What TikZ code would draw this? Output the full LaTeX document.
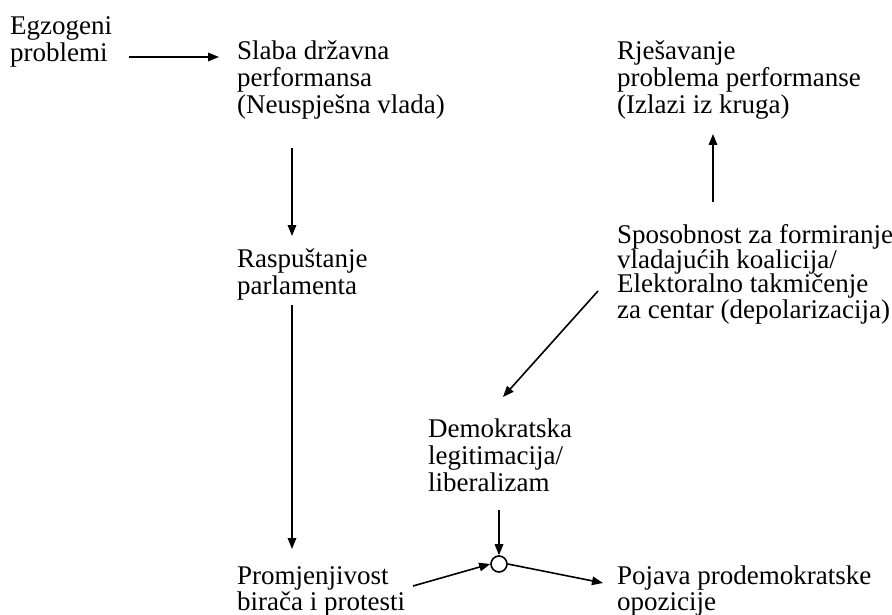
\documentclass[tikz,border=0pt]{standalone}
\usepackage{fontspec}
\setmainfont{Liberation Serif}
\usetikzlibrary{arrows.meta}
\newcommand\blk[2]{\vtop{\baselineskip=#1pt\lineskiplimit=-1000pt\lineskip=0pt\halign{##\hfil\cr#2\crcr}}}
\begin{document}
\begin{tikzpicture}[x=1pt,y=-1pt,
  txt/.style={inner sep=0pt, anchor=base west, font=\fontsize{27}{27}\selectfont},
  arr/.style={line width=1.6pt, -{Triangle[length=11pt,width=8.5pt]}},
  junction/.style={circle, draw, line width=1.6pt, fill=white, minimum size=16pt, inner sep=0pt}]
\useasboundingbox (0,0) rectangle (892,615);
% text blocks
\node[txt] (egz) at (10,35) {\blk{27}{Egzogeni\cr problemi}};
\node[txt] (slaba) at (237,60) {\blk{27}{Slaba državna\cr performansa\cr (Neuspješna vlada)}};
\node[txt] (rjes) at (617,60) {\blk{27}{Rješavanje\cr problema performanse\cr (Izlazi iz kruga)}};
\node[txt] (rasp) at (237,267) {\blk{27}{Raspuštanje\cr parlamenta}};
\node[txt] (spos) at (617,243) {\blk{25}{Sposobnost za formiranje\cr vladajućih koalicija/\cr Elektoralno takmičenje\cr za centar (depolarizacija)}};
\node[txt] (demo) at (428,437) {\blk{27}{Demokratska\cr legitimacija/\cr liberalizam}};
\node[txt] (prom) at (237,584) {\blk{26}{Promjenjivost\cr birača i protesti}};
\node[txt] (poja) at (617,584) {\blk{26}{Pojava prodemokratske\cr opozicije}};
\node[junction] (c) at (499,564) {};
% connector end points
\coordinate (e1) at (129,57);
\coordinate (e2) at (219,57);
\coordinate (s1) at (292,148);
\coordinate (r1) at (292,236);
\coordinate (r2) at (292,305);
\coordinate (p1) at (292,549);
\coordinate (sp1) at (713,202);
\coordinate (rj1) at (713,134);
\coordinate (sp2) at (598,291);
\coordinate (d1) at (503,397);
\coordinate (d2) at (499,510);
\coordinate (pr1) at (413,586);
\coordinate (po1) at (603,583);
% connectors
\draw[arr] (e1) -- (e2);
\draw[arr] (s1) -- (r1);
\draw[arr] (r2) -- (p1);
\draw[arr] (sp1) -- (rj1);
\draw[arr] (sp2) -- (d1);
\draw[arr] (d2) -- (c.north);
\draw[arr] (pr1) -- (c.west);
\draw[arr] (c.east) -- (po1);
\end{tikzpicture}
\end{document}
